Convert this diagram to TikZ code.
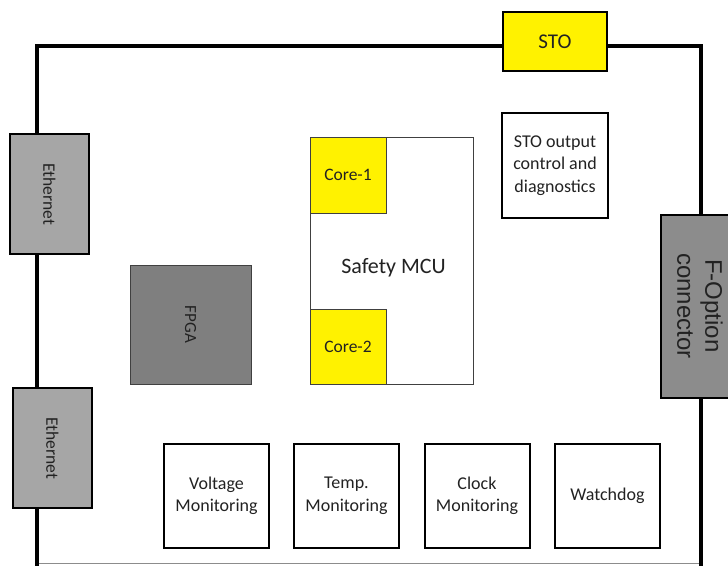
\documentclass[tikz,border=0pt]{standalone}
\usepackage{fontspec}
\setmainfont{Carlito}
\newfontfamily\arialf{Liberation Sans}
\definecolor{ethgray}{HTML}{A6A6A6}
\definecolor{fpgagray}{HTML}{7F7F7F}
\definecolor{congray}{HTML}{8C8C8C}
\definecolor{txt}{HTML}{222222}
\begin{document}
\begin{tikzpicture}[x=1pt,y=-1pt,
  every node/.style={text=txt, inner sep=0pt, outer sep=0pt},
  frame/.style={line width=3.5pt, black},
  thickbox/.style={draw=black, line width=2pt, rectangle, align=center,
     font=\fontsize{18}{22.5}\selectfont},
  thinbox/.style={draw=black!75, line width=1pt, rectangle, align=center},
  yellowbox/.style={thinbox, fill=yellow, font=\fontsize{17.5}{20}\selectfont},
  monbox/.style={thickbox, fill=white, minimum width=105pt, minimum height=104pt}]
\useasboundingbox (0,0) rectangle (728,565);
\fill[white] (0,0) rectangle (728,565);
% outer frame
\coordinate (bl) at (37,567);
\coordinate (tl) at (37,46);
\coordinate (tr) at (701,46);
\coordinate (br) at (701,567);
\coordinate (gl) at (37,563.5);
\coordinate (gr) at (701,563.5);
\draw[black!45, line width=0.8pt] (gl) -- (gr);
\draw[frame] (bl) -- (tl) -- (tr) -- (br);
% nodes on the frame
\node[thickbox, fill=yellow, minimum width=104pt, minimum height=59pt,
      font=\fontsize{21}{24}\selectfont] (sto) at (555,41.5) {STO};
\node[thickbox, fill=ethgray, rotate=-90, minimum width=120pt, minimum height=79pt,
      font=\fontsize{17.5}{20}\selectfont] (eth1) at (49.5,194) {Ethernet};
\node[thickbox, fill=ethgray, rotate=-90, minimum width=120pt, minimum height=79pt,
      font=\fontsize{17.5}{20}\selectfont] (eth2) at (52.5,448) {Ethernet};
\node[thickbox, fill=congray, rotate=-90, minimum width=183pt, minimum height=78pt,
      font=\arialf\fontsize{24}{28}\selectfont] (fopt) at (700,306) {F-Option\\connector};
% inner blocks
\node[thinbox, fill=fpgagray, rotate=-90, minimum width=119pt, minimum height=121pt,
      font=\fontsize{17}{20}\selectfont] (fpga) at (190.5,324.5) {FPGA};
\node[thinbox, fill=white, minimum width=163pt, minimum height=247pt] (mcu) at (391.5,260.5) {};
\node[font=\fontsize{22}{26}\selectfont] (mcutext) at (393.5,268) {Safety MCU};
\node[yellowbox, minimum width=76pt, minimum height=76pt] (core1) at (348,175) {Core-1};
\node[yellowbox, minimum width=76pt, minimum height=75pt] (core2) at (348,346.5) {Core-2};
\node[thickbox, fill=white, minimum width=106pt, minimum height=105pt] (stoout) at (555,165.5)
      {STO output\\control and\\diagnostics};
% monitoring row
\node[monbox] (volt) at (216.5,496) {Voltage\\Monitoring};
\node[monbox] (temp) at (346.5,496) {Temp.\\Monitoring};
\node[monbox] (clock) at (477,496) {Clock\\Monitoring};
\node[monbox] (wdog) at (607.5,496) {Watchdog};
\end{tikzpicture}
\end{document}
